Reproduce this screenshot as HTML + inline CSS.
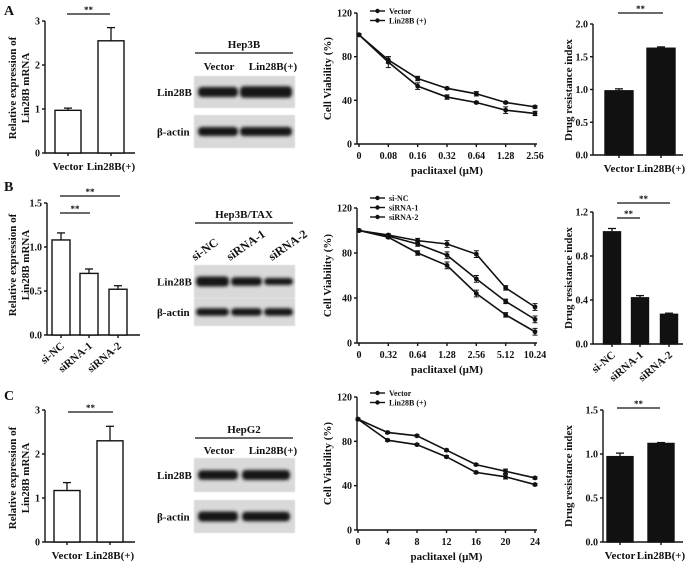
<!DOCTYPE html>
<html><head><meta charset="utf-8">
<style>
html,body{margin:0;padding:0;background:#fff;}
svg{display:block;font-family:"Liberation Serif",serif;font-weight:bold;}
</style></head>
<body>
<svg id="fig" width="693" height="563" viewBox="0 0 693 563" xmlns="http://www.w3.org/2000/svg">
<defs>
<filter id="blur" x="-20%" y="-50%" width="140%" height="200%"><feGaussianBlur stdDeviation="1.6"/></filter>
<filter id="blur2"><feGaussianBlur stdDeviation="0.6"/></filter>
</defs>
</svg>
<script>
// ---------- DATA ----------
var barCatsA = ["Vector","Lin28B(+)"];
var mrnaA = [0.97, 2.55];
var mrnaErrA = [0.05, 0.3];
var mrnaTicksA = ["0","1","2","3"];
var drugA = [0.98, 1.63];
var drugErrA = [0.03, 0.02];
var drugTicksA = ["0.0","0.5","1.0","1.5","2.0"];
var doseA = ["0","0.08","0.16","0.32","0.64","1.28","2.56"];
var vecA = [100, 77, 60, 51, 46, 38, 34];
var linA = [100, 75, 53, 43, 38, 31, 28];
var vecAErr = [1, 3, 2, 1, 2, 1, 1];
var linAErr = [1, 5, 3, 2, 1, 3, 2];

var barCatsB = ["si-NC","siRNA-1","siRNA-2"];
var mrnaB = [1.08, 0.70, 0.52];
var mrnaErrB = [0.08, 0.05, 0.04];
var mrnaTicksB = ["0.0","0.5","1.0","1.5"];
var drugB = [1.02, 0.42, 0.27];
var drugErrB = [0.03, 0.02, 0.01];
var drugTicksB = ["0.0","0.4","0.8","1.2"];
var doseB = ["0","0.32","0.64","1.28","2.56","5.12","10.24"];
var sincB = [100, 96, 91, 88, 79, 49, 32];
var si1B = [100, 95, 88, 78, 57, 37, 21];
var si2B = [100, 94, 80, 69, 44, 25, 10];
var lineErrB = [1, 1, 2, 3, 3, 2, 3];

var barCatsC = ["Vector","Lin28B(+)"];
var mrnaC = [1.17, 2.30];
var mrnaErrC = [0.18, 0.33];
var mrnaTicksC = ["0","1","2","3"];
var drugC = [0.97, 1.12];
var drugErrC = [0.04, 0.01];
var drugTicksC = ["0.0","0.5","1.0","1.5"];
var doseC = ["0","4","8","12","16","20","24"];
var vecC = [100, 88, 85, 72, 59, 53, 47];
var linC = [100, 81, 77, 66, 52, 48, 41];
var lineErrC = [1, 1, 1, 1, 1, 2, 1];
var viabTicks = ["0","40","80","120"];

// ---------- HELPERS ----------
var svg = document.getElementById('fig');
var NS = "http://www.w3.org/2000/svg";
function mk(tag, attrs, parent){
  var e = document.createElementNS(NS, tag);
  for (var k in attrs) e.setAttribute(k, attrs[k]);
  (parent||svg).appendChild(e); return e;
}
function txt(s, x, y, size, anchor, parent, rot){
  var t = mk('text', {x:x, y:y, 'font-size':size, 'text-anchor':anchor||'middle', fill:'#111'}, parent);
  if (rot !== undefined) t.setAttribute('transform','rotate('+rot+' '+x+' '+y+')');
  t.textContent = s; return t;
}
function ln(x1,y1,x2,y2,parent,w){
  return mk('line',{x1:x1,y1:y1,x2:x2,y2:y2,stroke:'#111','stroke-width':w||1.4},parent);
}

function barChart(o){
  var g = mk('g',{});
  
  
  var max = parseFloat(o.ticks[o.ticks.length-1]);
  function sy(v){ return o.y0 - (v/max)*(o.y0-o.y1); }
  ln(o.ax, o.y1, o.ax, o.y0, g);
  ln(o.ax, o.y0, o.xr, o.y0, g);
  o.ticks.forEach(function(t){
    var y = sy(parseFloat(t));
    ln(o.ax-3, y, o.ax, y, g);
    txt(t, o.ax-5, y+3.5, 10, 'end', g);
  });
  o.vals.forEach(function(v,i){
    var cx = o.centers[i];
    var top = sy(v), etop = sy(v + o.errs[i]);
    ln(cx, etop, cx, top, g, 1.3);
    ln(cx-4, etop, cx+4, etop, g, 1.3);
    var r = mk('rect',{x:cx-o.bw/2, y:top, width:o.bw, height:o.y0-top, fill:o.fill, stroke:'#111','stroke-width':1.4}, g);
    
    
    ln(cx, o.y0, cx, o.y0+3, g);
    if (o.rot) txt(o.cats[i], cx+4, o.y0+12, 11, 'end', g, -40);
    else txt(o.cats[i], cx, o.y0+17, 11, 'middle', g);
  });
  var yl = txt(o.ylab1, o.ylx, o.ylc, 11, 'middle', g, -90);
  
  if (o.ylab2) txt(o.ylab2, o.ylx+13, o.ylc, 11, 'middle', g, -90);
  o.sig.forEach(function(s){
    ln(s[0], s[2], s[1], s[2], g, 1.2);
    txt('**', (s[0]+s[1])/2, s[2]-1, 9, 'middle', g);
  });
}

function lineChart(o){
  var g = mk('g',{});
  
  
  function sx(i){ return o.x0 + i*(o.x1-o.x0)/(o.doses.length-1); }
  function sy(v){ return o.y0 - (v/120)*(o.y0-o.y1); }
  ln(o.ax, o.y1, o.ax, o.y0, g);
  ln(o.ax, o.y0, o.x1+2, o.y0, g);
  viabTicks.forEach(function(t){
    var y = sy(parseFloat(t));
    ln(o.ax-3, y, o.ax, y, g);
    txt(t, o.ax-5, y+3.5, 10, 'end', g);
  });
  o.doses.forEach(function(d,i){
    ln(sx(i), o.y0, sx(i), o.y0+3, g);
    txt(d, sx(i), o.y0+15, 10, 'middle', g);
  });
  txt('paclitaxel (\u03bcM)', (o.x0+o.x1)/2, o.y0+30, 11, 'middle', g);
  txt('Cell Viability (%)', o.ax-26, (o.y0+o.y1)/2, 11, 'middle', g, -90);
  o.series.forEach(function(s, si){
    var pts = s.vals.map(function(v,i){ return sx(i)+','+sy(v); }).join(' ');
    var pl = mk('polyline',{points:pts, fill:'none', stroke:'#111','stroke-width':1.6}, g);
    
    
    s.vals.forEach(function(v,i){
      var x = sx(i), y = sy(v), e = (o.errs[si]||o.errs[0])[i];
      ln(x, sy(v+e), x, sy(v-e), g, 1);
      ln(x-2.5, sy(v+e), x+2.5, sy(v+e), g, 1);
      ln(x-2.5, sy(v-e), x+2.5, sy(v-e), g, 1);
      mk('circle',{cx:x, cy:y, r:2.4, fill:'#111'}, g);
    });
    var ly = o.legY + si*9.5;
    var lg = mk('g',{}, g);
    
    
    ln(o.legX, ly, o.legX+15, ly, lg, 1.4);
    mk('circle',{cx:o.legX+7.5, cy:ly, r:2.2, fill:'#111'}, lg);
    txt(s.label, o.legX+19, ly+3, 8, 'start', lg);
  });
}

function blot(o){
  var g = mk('g',{});
  
  
  [[o.b1, 'Lin28B', o.int1],[o.b2, '\u03b2-actin', o.int2]].forEach(function(b){
    var bg = mk('rect',{x:194, y:b[0][0], width:101, height:b[0][1]-b[0][0], fill:'#d9d9d9', filter:'url(#blur2)'}, g);
    
    
    var cy = (b[0][0]+b[0][1])/2;
    o.bandX.forEach(function(bx,i){
      mk('rect',{x:bx[0], y:cy-5*b[2][i], width:bx[1]-bx[0], height:10*b[2][i], rx:4, fill:'#141414', filter:'url(#blur)'}, g);
    });
    txt(b[1], 157, cy+4, 11, 'start', g);
  });
  txt(o.title, o.tx, o.ty, 11, 'middle', g);
  ln(195, o.ty+5, 293, o.ty+5, g, 1.2);
  o.lanes.forEach(function(l,i){
    if (o.rot) txt(l, o.laneX[i], o.laneY, 12, 'start', g, -35);
    else txt(l, o.laneX[i], o.laneY, 11, 'middle', g);
  });
}

// ---------- PANEL LETTERS ----------
txt('A', 4, 15, 14, 'start');
txt('B', 4, 191, 14, 'start');
txt('C', 4, 400, 14, 'start');

// ---------- PANEL A ----------
barChart({name:'mrna-bar-chart-a', cats:barCatsA, vals:mrnaA, errs:mrnaErrA, ticks:mrnaTicksA,
  ax:45, xr:135, y0:153, y1:21, centers:[68,111], bw:26, fill:'#fff',
  ylab1:'Relative expression of', ylab2:'Lin28B mRNA', ylx:16, ylc:88, sig:[[67,110,14]]});
blot({name:'western-blot-a', title:'Hep3B', tx:244, ty:48, lanes:['Vector','Lin28B(+)'], laneX:[219,273], laneY:70,
  b1:[76,108], b2:[115,148], bandX:[[198,238],[240,292]], int1:[1,1.15], int2:[0.9,0.9]});
lineChart({name:'viability-line-chart-a', doses:doseA, ax:357, x0:359, x1:535, y0:144, y1:13,
  series:[{label:'Vector', vals:vecA},{label:'Lin28B (+)', vals:linA}], errs:[vecAErr, linAErr], legX:370, legY:11});
barChart({name:'drug-resistance-bar-chart-a', cats:barCatsA, vals:drugA, errs:drugErrA, ticks:drugTicksA,
  ax:593, xr:683, y0:155, y1:24, centers:[619,661], bw:28, fill:'#111',
  ylab1:'Drug resistance index', ylx:572, ylc:90, sig:[[618,663,13]]});

// ---------- PANEL B ----------
barChart({name:'mrna-bar-chart-b', cats:barCatsB, vals:mrnaB, errs:mrnaErrB, ticks:mrnaTicksB, rot:true,
  ax:47, xr:140, y0:335, y1:203, centers:[61,89,118], bw:18, fill:'#fff',
  ylab1:'Relative expression of', ylab2:'Lin28B mRNA', ylx:16, ylc:265, sig:[[60,90,213],[60,120,196]]});
blot({name:'western-blot-b', title:'Hep3B/TAX', tx:244, ty:218, lanes:['si-NC','siRNA-1','siRNA-2'], laneX:[195,230,272], laneY:261, rot:true,
  b1:[265,298], b2:[298,326], bandX:[[196,229],[231,262],[264,293]], int1:[1,0.85,0.7], int2:[0.75,0.75,0.75]});
lineChart({name:'viability-line-chart-b', doses:doseB, ax:357, x0:359, x1:535, y0:343, y1:208,
  series:[{label:'si-NC', vals:sincB},{label:'siRNA-1', vals:si1B},{label:'siRNA-2', vals:si2B}], errs:[lineErrB], legX:370, legY:198});
barChart({name:'drug-resistance-bar-chart-b', cats:barCatsB, vals:drugB, errs:drugErrB, ticks:drugTicksB, rot:true,
  ax:593, xr:683, y0:344, y1:212, centers:[612,640,669], bw:17, fill:'#111',
  ylab1:'Drug resistance index', ylx:572, ylc:278, sig:[[617,640,218],[617,670,203]]});

// ---------- PANEL C ----------
barChart({name:'mrna-bar-chart-c', cats:barCatsC, vals:mrnaC, errs:mrnaErrC, ticks:mrnaTicksC,
  ax:45, xr:135, y0:542, y1:410, centers:[67,110], bw:26, fill:'#fff',
  ylab1:'Relative expression of', ylab2:'Lin28B mRNA', ylx:16, ylc:478, sig:[[68,113,412]]});
blot({name:'western-blot-c', title:'HepG2', tx:244, ty:433, lanes:['Vector','Lin28B(+)'], laneX:[219,273], laneY:454,
  b1:[458,492], b2:[500,533], bandX:[[198,238],[242,290]], int1:[0.95,1], int2:[1,0.95]});
lineChart({name:'viability-line-chart-c', doses:doseC, ax:357, x0:358, x1:535, y0:530, y1:397,
  series:[{label:'Vector', vals:vecC},{label:'Lin28B (+)', vals:linC}], errs:[lineErrC], legX:370, legY:393});
barChart({name:'drug-resistance-bar-chart-c', cats:barCatsC, vals:drugC, errs:drugErrC, ticks:drugTicksC,
  ax:603, xr:683, y0:542, y1:410, centers:[620,661], bw:26, fill:'#111',
  ylab1:'Drug resistance index', ylx:572, ylc:476, sig:[[617,660,408]]});
</script>
</body></html>
